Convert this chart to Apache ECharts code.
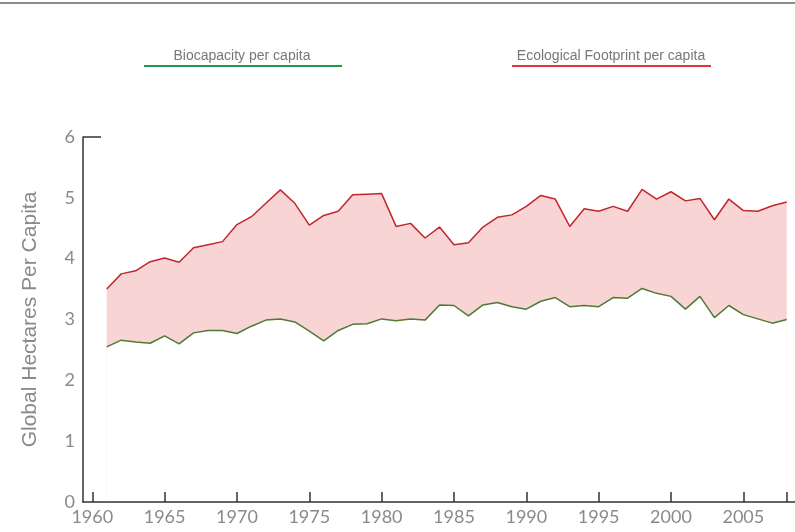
<!DOCTYPE html>
<html>
<head>
<meta charset="utf-8">
<script src="https://cdn.jsdelivr.net/npm/echarts@6/dist/echarts.min.js"></script>
<style>
  html, body { margin: 0; padding: 0; background: #fff; }
  #topline { position: absolute; left: 0; top: 2px; width: 795px; height: 0; border-top: 2px solid #8c8c8c; }
  #main { width: 795px; height: 532px; }
</style>
</head>
<body>
<div id="topline"></div>
<div id="main"></div>
<script>
// years covered by the data
var years = [];
for (var y = 1961; y <= 2008; y++) years.push(y);

// global hectares per capita
var biocapacity = [
  2.55, 2.66, 2.63, 2.61, 2.73, 2.60, 2.78, 2.82, 2.82, 2.77,
  2.89, 2.99, 3.01, 2.96, 2.81, 2.65, 2.82, 2.92, 2.93, 3.01,
  2.98, 3.01, 2.99, 3.24, 3.23, 3.06, 3.24, 3.28, 3.21, 3.17,
  3.30, 3.36, 3.21, 3.23, 3.21, 3.36, 3.35, 3.51, 3.43, 3.38,
  3.17, 3.38, 3.03, 3.23, 3.08, 3.01, 2.94, 3.00
];
var footprint = [
  3.50, 3.75, 3.80, 3.95, 4.01, 3.94, 4.18, 4.23, 4.28, 4.56,
  4.69, 4.91, 5.13, 4.91, 4.55, 4.71, 4.78, 5.05, 5.06, 5.07,
  4.53, 4.58, 4.34, 4.52, 4.23, 4.26, 4.52, 4.68, 4.72, 4.86,
  5.04, 4.98, 4.53, 4.82, 4.78, 4.86, 4.78, 5.14, 4.98, 5.10,
  4.95, 4.99, 4.64, 4.98, 4.79, 4.78, 4.87, 4.93
];

var yearLabels = [1960, 1965, 1970, 1975, 1980, 1985, 1990, 1995, 2000, 2005];
var yearTicks = yearLabels.concat([2008]);

var bioPts = years.map(function (yr, i) { return [yr, biocapacity[i]]; });
var ecoPts = years.map(function (yr, i) { return [yr, footprint[i]]; });

var labelFont = 'Lato, "Noto Sans", sans-serif';
var legendFont = '"Liberation Sans", Arial, sans-serif';

var option = {
  animation: false,
  grid: { left: 83, right: 0, top: 137, bottom: 30 },
  graphic: [
    { type: 'text', style: { text: 'Biocapacity per capita', x: 242, y: 56, align: 'center', verticalAlign: 'middle',
        fill: '#777', font: '14px ' + legendFont } },
    { type: 'line', shape: { x1: 144, y1: 66, x2: 342, y2: 66 }, style: { stroke: '#1f9a4b', lineWidth: 2 } },
    { type: 'text', style: { text: 'Ecological Footprint per capita', x: 611, y: 56, align: 'center', verticalAlign: 'middle',
        fill: '#777', font: '14px ' + legendFont } },
    { type: 'line', shape: { x1: 512, y1: 66, x2: 711, y2: 66 }, style: { stroke: '#e3353b', lineWidth: 2 } }
  ],
  xAxis: {
    type: 'value',
    min: 1959.36,
    max: 2008.57,
    z: 10,
    splitLine: { show: false },
    axisLine: { show: true, lineStyle: { color: '#333', width: 1.5 } },
    axisTick: { show: true, inside: true, length: 10, customValues: yearTicks, lineStyle: { color: '#333', width: 1.5 } },
    axisLabel: {
      customValues: yearLabels, color: '#8a8a8a', fontSize: 18, fontFamily: labelFont, margin: 6,
      formatter: function (v) { return String(v); }
    }
  },
  yAxis: {
    type: 'value',
    min: 0,
    max: 6,
    interval: 1,
    name: 'Global Hectares Per Capita',
    nameLocation: 'middle',
    nameGap: 42,
    nameRotate: 90,
    nameTextStyle: { color: '#8a8a8a', fontSize: 21, fontFamily: '"Liberation Sans", Arial, sans-serif' },
    splitLine: { show: false },
    axisLine: { show: true, lineStyle: { color: '#333', width: 1.5 } },
    axisTick: { show: true, inside: true, length: 18, customValues: [6], lineStyle: { color: '#333', width: 1.5 } },
    axisLabel: { color: '#8a8a8a', fontSize: 18, fontFamily: labelFont, margin: 8 }
  },
  series: [
    {
      name: 'Ecological Footprint per capita',
      type: 'line',
      data: ecoPts,
      symbol: 'none',
      z: 2,
      lineStyle: { color: '#c1272f', width: 1.5 },
      areaStyle: { color: '#f9d4d5', opacity: 1, origin: 'start' }
    },
    {
      // white area under biocapacity leaves the pink band between the two lines
      name: 'Biocapacity per capita',
      type: 'line',
      data: bioPts,
      symbol: 'none',
      z: 3,
      lineStyle: { color: '#4f7a36', width: 1.5 },
      areaStyle: { color: '#ffffff', opacity: 1, origin: 'start' }
    }
  ]
};

var myChart = echarts.init(document.getElementById('main'));
myChart.setOption(option);
</script>
</body>
</html>
